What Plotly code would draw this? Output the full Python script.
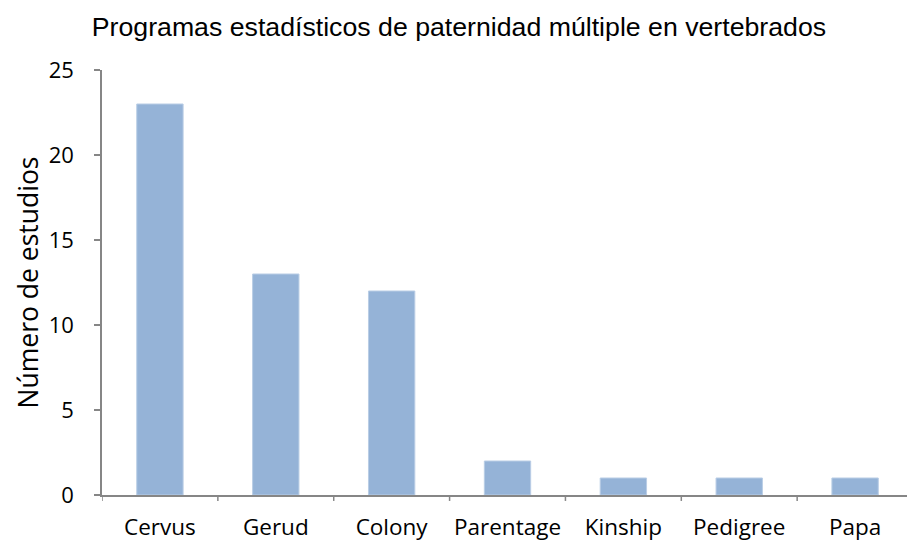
import plotly.graph_objects as go

categories = ["Cervus", "Gerud", "Colony", "Parentage", "Kinship", "Pedigree", "Papa"]
values = [23, 13, 12, 2, 1, 1, 1]
y_ticks = [0, 5, 10, 15, 20, 25]

fig = go.Figure(go.Bar(
    x=categories, y=values,
    marker=dict(color="#95B3D7", line=dict(color="#B9CDE5", width=1)),
    width=0.4,
))

fig.update_layout(
    width=907, height=542,
    margin=dict(l=102, r=0, t=70, b=47),
    paper_bgcolor="white", plot_bgcolor="white",
    showlegend=False,
    title=dict(text="Programas estadísticos de paternidad múltiple en vertebrados",
               x=0.506, xanchor="center", y=1 - 27 / 542, yanchor="middle",
               font=dict(family="Liberation Sans, Arial", size=26.7, color="black")),
    xaxis=dict(
        type="category", range=[-0.5, 6.448],
        showline=True, linecolor="#868686", linewidth=1.5,
        ticks="outside", ticklen=1, tickcolor="rgba(0,0,0,0)",
        ticklabelstandoff=10, automargin=False,
        showgrid=False, zeroline=False,
        tickfont=dict(family="Open Sans", size=22.5, color="black"),
    ),
    yaxis=dict(
        range=[0, 25], tickvals=y_ticks,
        showline=True, linecolor="#868686", linewidth=1.5,
        ticks="outside", ticklen=6, tickcolor="#868686", tickwidth=1.5,
        ticklabelstandoff=16, automargin=False,
        showgrid=False, zeroline=False,
        tickfont=dict(family="Open Sans", size=22, color="black"),
        title=dict(text="Número de estudios", standoff=2,
                   font=dict(family="Open Sans", size=26.5, color="black")),
    ),
)

# category boundary ticks on the x axis
for i in range(len(categories)):
    fig.add_shape(type="line", xref="x", yref="paper",
                  x0=i - 0.5, x1=i - 0.5, y0=0, y1=-0.014,
                  line=dict(color="#868686", width=1.5))

fig.write_html("out.html", config={"displayModeBar": False},
               post_script="document.body.style.margin='0px';")
